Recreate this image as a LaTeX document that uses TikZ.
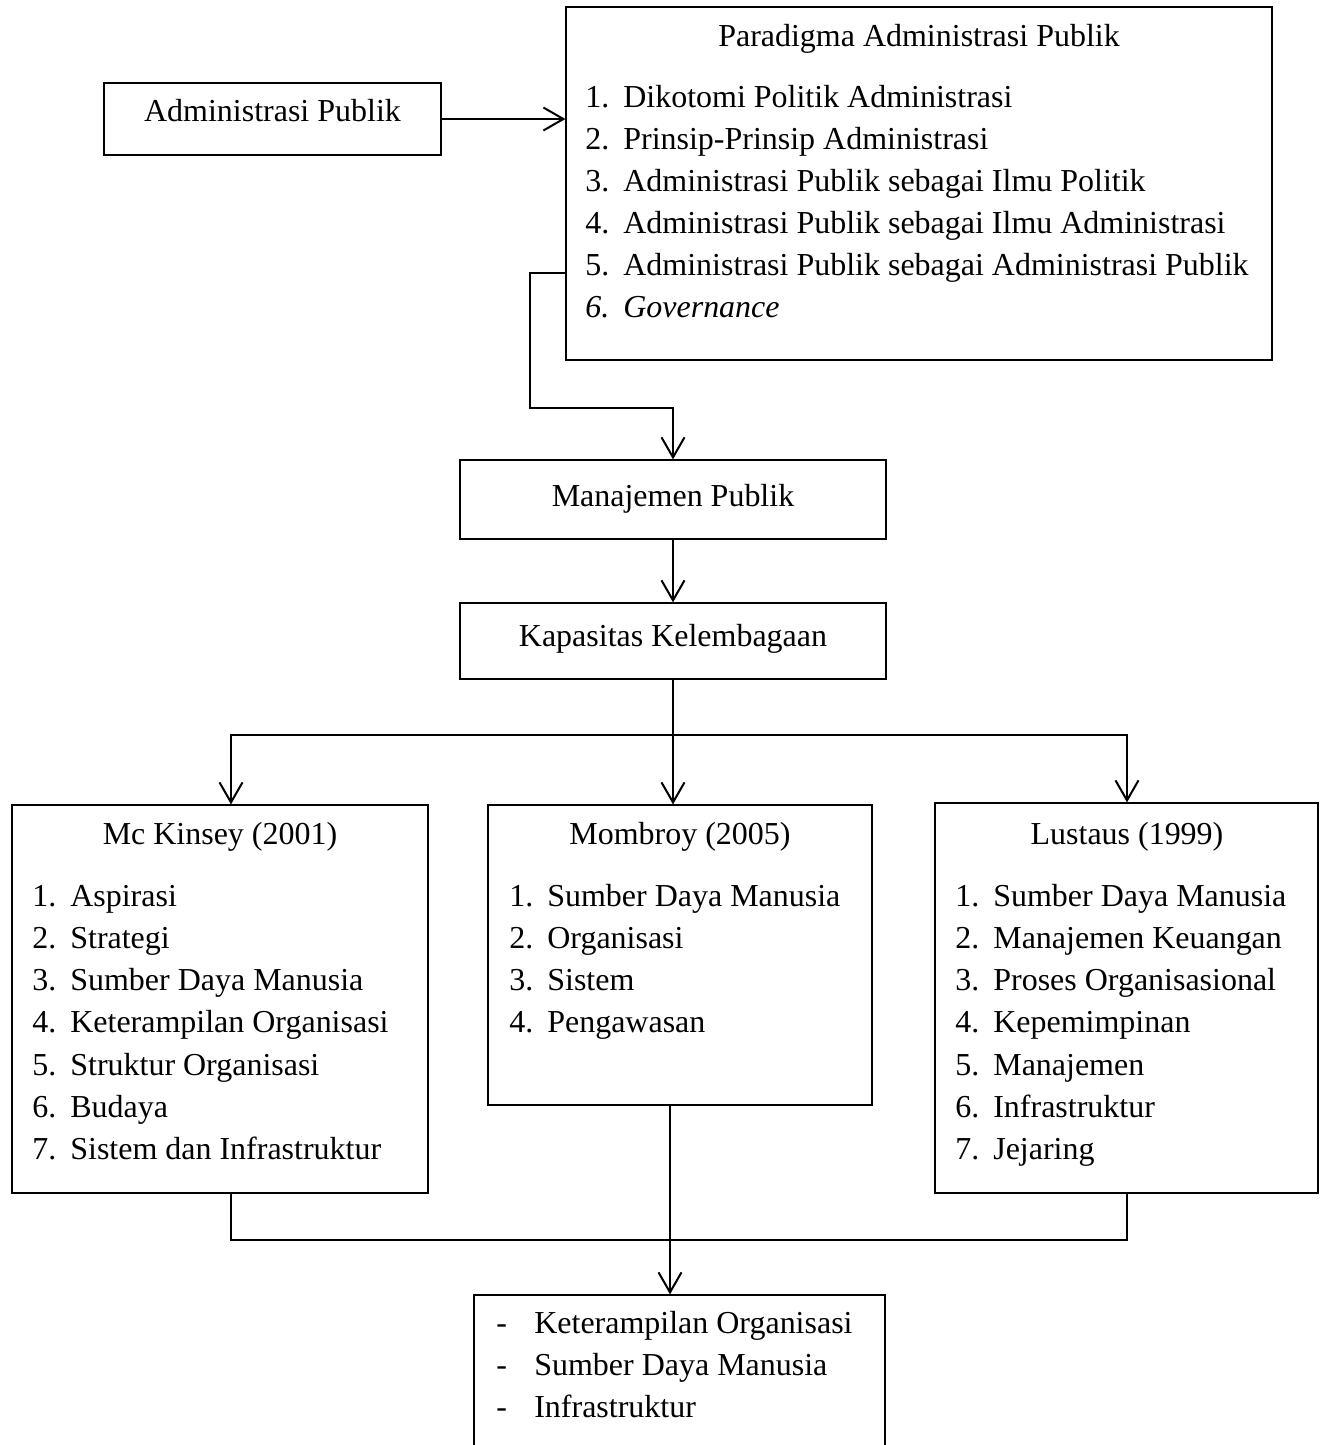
\documentclass[tikz,border=0pt]{standalone}
\usepackage{fontspec}
\setmainfont{Liberation Serif}
\usetikzlibrary{arrows.meta, calc}

\newcommand{\nomor}[1]{\makebox[0.76cm][l]{#1}}

\tikzset{
  kotak/.style={draw, line width=0.75pt, inner sep=0pt},
  teks/.style={anchor=base, inner sep=0pt},
  butir/.style={anchor=base west, inner sep=0pt},
  garis/.style={line width=0.8pt},
  panah/.style={line width=1.15pt, -{Straight Barb[length=0.4cm, width=0.46cm]}},
  panahdua/.style={line width=1.15pt, {Straight Barb[length=0.4cm, width=0.46cm]}-{Straight Barb[length=0.4cm, width=0.46cm]}}
}

\begin{document}
\begin{tikzpicture}[x=0.02cm, y=-0.02cm, font=\fontsize{18.2pt}{24pt}\selectfont]
        \useasboundingbox (0,0) rectangle (1320,1445);

        % kotak
        \node[kotak, minimum width=6.74cm, minimum height=1.44cm] (admin) at (272.5,119) {};
        \node[kotak, minimum width=14.12cm, minimum height=7.06cm] (para) at (919,183.5) {};
        \node[kotak, minimum width=8.52cm, minimum height=1.58cm] (manaj) at (673,499.5) {};
        \node[kotak, minimum width=8.52cm, minimum height=1.52cm] (kapas) at (673,641) {};
        \node[kotak, minimum width=8.32cm, minimum height=7.76cm] (mck) at (220,999) {};
        \node[kotak, minimum width=7.68cm, minimum height=6.00cm] (momb) at (680,955) {};
        \node[kotak, minimum width=7.66cm, minimum height=7.80cm] (lust) at (1126.5,998) {};
        \node[kotak, minimum width=8.22cm, minimum height=3.14cm] (hasil) at (679.5,1373.5) {};

        % judul
        \node[teks] (admin-t) at (272.5,121) {Administrasi Publik};
        \node[teks] (para-t) at (919,46) {Paradigma Administrasi Publik};
        \node[teks] (manaj-t) at (673,506) {Manajemen Publik};
        \node[teks] (kapas-t) at (673,646) {Kapasitas Kelembagaan};
        \node[teks] (mck-t) at (220,844) {Mc Kinsey (2001)};
        \node[teks] (momb-t) at (680,844) {Mombroy (2005)};
        \node[teks] (lust-t) at (1127,844) {Lustaus (1999)};

        % daftar
        \foreach \no/\isi [count=\i] in {1./Dikotomi Politik Administrasi, 2./Prinsip-Prinsip Administrasi, 3./Administrasi Publik sebagai Ilmu Politik, 4./Administrasi Publik sebagai Ilmu Administrasi, 5./Administrasi Publik sebagai Administrasi Publik, \textit{6.}/\textit{Governance}}
            \node[butir] (para-\i) at (585,65+42*\i) {\nomor{\no}\isi};
        \foreach \isi [count=\i] in {Aspirasi, Strategi, Sumber Daya Manusia, Keterampilan Organisasi, Struktur Organisasi, Budaya, Sistem dan Infrastruktur}
            \node[butir] (mck-\i) at (32,863.7+42.3*\i) {\nomor{\i.}\isi};
        \foreach \isi [count=\i] in {Sumber Daya Manusia, Organisasi, Sistem, Pengawasan}
            \node[butir] (momb-\i) at (509,863.7+42.3*\i) {\nomor{\i.}\isi};
        \foreach \isi [count=\i] in {Sumber Daya Manusia, Manajemen Keuangan, Proses Organisasional, Kepemimpinan, Manajemen, Infrastruktur, Jejaring}
            \node[butir] (lust-\i) at (955,863.7+42.3*\i) {\nomor{\i.}\isi};
        \foreach \isi [count=\i] in {Keterampilan Organisasi, Sumber Daya Manusia, Infrastruktur}
            \node[butir] (hasil-\i) at (496,1291+42*\i) {\nomor{-}\isi};

        % penghubung
        \coordinate (cabkiri) at (231,735);
        \coordinate (cabkanan) at (1127,735);
        \coordinate (gabung) at (670,1240);

        \draw[panah] (admin.east) -- (admin.east -| para.west);
        \draw[panah] (para.west |- 0,273) -- (530,273) -- (530,408) -- (manaj.north |- 0,408) -- (manaj.north);
        \draw[panah] (manaj.south) -- (kapas.north);
        \draw[panah] (kapas.south) -- (kapas.south |- momb.north);
        \draw[panahdua] (cabkiri |- mck.north) -- (cabkiri) -- (cabkanan) -- (cabkanan |- lust.north);
        \draw[garis] (mck.south -| cabkiri) -- (cabkiri |- gabung) -- (cabkanan |- gabung) -- (lust.south -| cabkanan);
        \draw[panah] (momb.south -| gabung) -- (gabung |- hasil.north);
\end{tikzpicture}
\end{document}
